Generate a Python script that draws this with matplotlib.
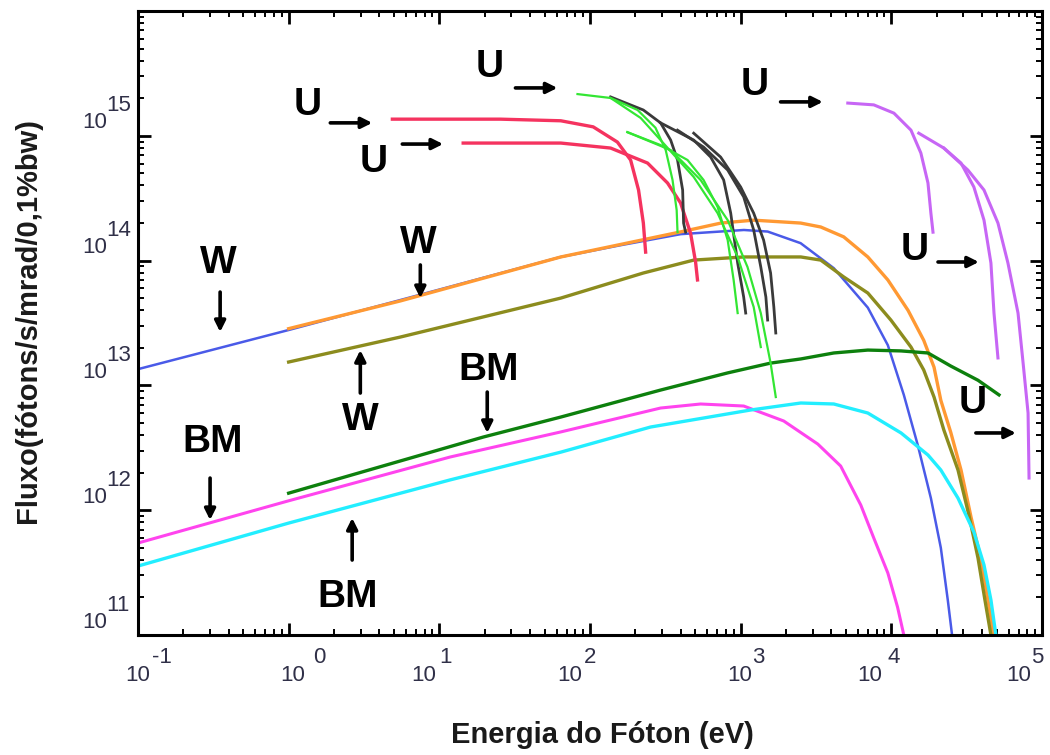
import numpy as np
import matplotlib.pyplot as plt

# photon energy (eV) and flux (photons/s/mrad/0.1%bw) for each source curve

# wigglers (W)
w1_e = [0.1, 1, 64, 160, 400, 1050, 1510, 2500, 4150, 6980, 9480, 12100, 15000, 18300, 21300, 23700, 26000]
w1_f = [1.35e13, 2.78e13, 1.07e14, 1.33e14, 1.63e14, 1.76e14, 1.71e14, 1.38e14, 8.7e13, 4.2e13, 2.1e13,
        8.4e12, 3.3e12, 1.25e12, 5.0e11, 1.9e11, 7.6e10]
w2_e = [1, 5.5, 64, 400, 740, 1220, 2500, 3400, 4830, 6980, 9480, 12900, 16400, 19200, 21300, 24800,
        29000, 33800, 39400, 43800, 49500]
w2_f = [2.85e13, 4.75e13, 1.07e14, 1.70e14, 2.0e14, 2.11e14, 2.0e14, 1.86e14, 1.55e14, 1.07e14, 7.0e13,
        4.0e13, 2.3e13, 1.4e13, 7.6e12, 4.2e12, 2.1e12, 8.8e11, 4.0e11, 1.9e11, 7.6e10]
w3_e = [1, 5.5, 64, 226, 488, 1047, 2506, 3400, 4830, 6980, 9930, 13500, 16400, 19200, 22300, 27700,
        32700, 37600, 41800, 45800, 47200]
w3_f = [1.54e13, 2.44e13, 5.01e13, 7.96e13, 1.01e14, 1.07e14, 1.07e14, 1.01e14, 7.4e13, 5.5e13, 3.34e13,
        2.03e13, 1.33e13, 8.07e12, 4.4e12, 2.1e12, 9.16e11, 4.14e11, 1.91e11, 1.0e11, 7.6e10]

# bending magnets (BM)
bm1_e = [1, 19.6, 64, 294, 820, 1580, 2506, 4150, 6980, 11600, 17500, 24800, 37600, 51800]
bm1_f = [1.37e12, 3.86e12, 5.58e12, 9.18e12, 1.26e13, 1.51e13, 1.63e13, 1.82e13, 1.92e13, 1.89e13,
         1.82e13, 1.43e13, 1.10e13, 8.4e12]
bm2_e = [0.1, 1, 11.8, 64, 294, 542, 1047, 1930, 3250, 4610, 6270, 7650, 9480, 11000, 12100, 12500]
bm2_f = [5.46e11, 1.19e12, 2.67e12, 4.24e12, 6.59e12, 7.10e12, 6.84e12, 5.19e12, 3.39e12, 2.26e12,
         1.10e12, 5.98e11, 3.14e11, 1.67e11, 1.0e11, 7.6e10]
bm3_e = [0.1, 1, 11.8, 64, 252, 1160, 2506, 4150, 6980, 11600, 17500, 21300, 27700, 35300, 41200,
         45800, 49400, 51000]
bm3_f = [3.57e11, 7.89e11, 1.75e12, 2.92e12, 4.64e12, 6.35e12, 7.23e12, 7.10e12, 6.01e12, 4.16e12,
         2.77e12, 2.10e12, 1.25e12, 6.69e11, 3.64e11, 1.91e11, 1.0e11, 7.6e10]

# undulators (U)
u_red_e = [[4.88, 25.4, 64, 105, 152, 186, 210, 226, 234],
           [14.4, 64, 137, 241, 327, 399, 465, 502, 517]]
u_red_f = [[1.36e15, 1.36e15, 1.32e15, 1.18e15, 8.91e14, 6.40e14, 3.68e14, 2.0e14, 1.17e14],
           [8.75e14, 8.75e14, 7.98e14, 6.05e14, 4.19e14, 2.90e14, 1.66e14, 9.75e13, 7.0e13]]
u_green_e = [[82.6, 137, 207, 272, 318, 353, 376, 381],
             [177, 294, 444, 567, 703, 820, 898, 955],
             [137, 217, 294, 488, 703, 955, 1220, 1360],
             [177, 343, 542, 820, 1110, 1360, 1580, 1710]]
u_green_f = [[2.16e15, 2.01e15, 1.61e15, 1.16e15, 7.69e14, 4.43e14, 2.54e14, 1.69e14],
             [1.07e15, 8.43e14, 6.40e14, 4.43e14, 2.69e14, 1.46e14, 7.0e13, 3.80e13],
             [2.01e15, 1.39e15, 9.25e14, 4.68e14, 2.40e14, 1.07e14, 4.25e13, 2.03e13],
             [1.07e15, 7.69e14, 4.43e14, 2.11e14, 8.89e13, 3.80e13, 1.51e13, 8.07e12]]
u_black_e = [[137, 226, 294, 343, 381, 412, 418, 431],
             [294, 488, 632, 771, 859, 955, 1047, 1080],
             [381, 567, 820, 1047, 1220, 1360, 1470, 1510],
             [488, 736, 1000, 1220, 1420, 1580, 1660, 1710]]
u_black_f = [[2.05e15, 1.61e15, 1.27e15, 9.25e14, 6.40e14, 3.68e14, 2.0e14, 1.69e14],
             [1.27e15, 9.25e14, 6.76e14, 4.43e14, 2.40e14, 9.57e13, 5.11e13, 3.80e13],
             [1.11e15, 8.13e14, 5.32e14, 3.24e14, 1.76e14, 8.89e13, 5.11e13, 3.34e13],
             [1.05e15, 6.76e14, 3.89e14, 2.40e14, 1.46e14, 7.96e13, 4.25e13, 2.63e13]]
u_purple_e = [[5140, 7650, 10400, 13500, 15700, 17500, 18300, 18900],
              [15200, 22300, 29000, 35300, 41200, 45800, 48000, 51000],
              [22300, 32200, 41200, 51000, 59400, 69300, 74900, 80800, 82000]]
u_purple_f = [[1.83e15, 1.77e15, 1.52e15, 1.11e15, 7.28e14, 4.19e14, 2.40e14, 1.69e14],
              [1.05e15, 7.98e14, 6.05e14, 3.89e14, 2.11e14, 9.57e13, 3.80e13, 1.66e13],
              [7.98e14, 5.32e14, 3.68e14, 2.0e14, 9.57e13, 3.80e13, 1.51e13, 6.01e12, 1.81e12]]

# labels: text, text position, arrow tail, arrow tip
tags = ['U', 'U', 'U', 'U', 'U', 'U', 'W', 'W', 'W', 'BM', 'BM', 'BM']
tag_pos = [(1.33, 1.77e15), (3.64, 6.17e14), (21.5, 3.56e15), (1240, 2.55e15), (14300, 1.22e14),
           (34800, 7.23e12), (0.34, 9.57e13), (7.24, 1.38e14), (2.99, 5.28e12), (21.2, 1.33e13),
           (0.315, 3.52e12), (2.48, 2.01e11)]
arrow_from = [(1.89, 1.27e15), (5.68, 8.59e14), (32.0, 2.42e15), (1840, 1.87e15), (20400, 9.75e13),
              (36400, 4.16e12), (0.351, 5.6e13), (7.48, 9.23e13), (2.99, 8.69e12), (20.8, 8.85e12),
              (0.301, 1.81e12), (2.64, 3.99e11)]
arrow_to = [(3.59, 1.27e15), (10.6, 8.59e14), (60.8, 2.42e15), (3510, 1.87e15), (38100, 9.75e13),
            (67100, 4.16e12), (0.351, 2.68e13), (7.48, 5.01e13), (2.99, 1.92e13), (20.8, 4.16e12),
            (0.301, 8.34e11), (2.64, 8.67e11)]

# decade exponents on each axis
x_pows = [-1, 0, 1, 2, 3, 4, 5]
y_pows = [11, 12, 13, 14, 15]

fig = plt.figure(figsize=(10.5, 7.55), dpi=100)
ax = fig.add_axes([0.1314, 0.1589, 0.861, 0.8265])
ax.set_xscale('log')
ax.set_yscale('log')
ax.set_xlim(0.1, 1e5)
ax.set_ylim(1e11, 1e16)

ax.plot(w1_e, w1_f, color='#4a5ae8', lw=1.8)
ax.plot(w2_e, w2_f, color='#ff9933', lw=2.4)
ax.plot(w3_e, w3_f, color='#8c8c1e', lw=2.4)
ax.plot(bm2_e, bm2_f, color='#ff44ee', lw=2.2)
ax.plot(bm3_e, bm3_f, color='#22eeff', lw=2.4)
ax.plot(bm1_e, bm1_f, color='#0d800d', lw=2.4)

for e, f in zip(u_red_e, u_red_f):
    ax.plot(e, f, color='#f5335f', lw=2.4)
for e, f in zip(u_black_e, u_black_f):
    ax.plot(e, f, color='#3a3a3a', lw=2.0)
for e, f in zip(u_green_e, u_green_f):
    ax.plot(e, f, color='#33e633', lw=1.6)
for e, f in zip(u_purple_e, u_purple_f):
    ax.plot(e, f, color='#c766f5', lw=2.2)

tag_font = dict(family=['Liberation Sans Narrow', 'Liberation Sans', 'DejaVu Sans'],
                fontsize=28, fontweight='bold', color='black')
for t, p, a, b in zip(tags, tag_pos, arrow_from, arrow_to):
    ax.text(p[0], p[1], t, ha='center', va='center', **tag_font)
    ax.annotate('', xy=b, xytext=a,
                arrowprops=dict(arrowstyle='-|>', color='black', lw=2.6,
                                mutation_scale=16, shrinkA=0, shrinkB=0))

# axes frame and ticks
for s in ax.spines.values():
    s.set_linewidth(2.2)
ax.tick_params(which='both', direction='in', top=True, right=True,
               labelbottom=False, labelleft=False)
ax.tick_params(which='major', length=9, width=2.0)
ax.tick_params(which='minor', length=4, width=1.4)
ax.xaxis.set_major_locator(plt.LogLocator(base=10, numticks=10))
ax.xaxis.set_minor_locator(plt.LogLocator(base=10, subs=np.arange(2, 10), numticks=20))
ax.yaxis.set_major_locator(plt.LogLocator(base=10, numticks=10))
ax.yaxis.set_minor_locator(plt.LogLocator(base=10, subs=np.arange(2, 10), numticks=20))

# decade labels drawn as "10" with a raised exponent (hand-placed, slightly off the ticks)
tick_font = dict(family=['Liberation Sans', 'DejaVu Sans'], fontsize=16, color='#303048')
base_dx = [12, 16, -3, -8, 11, -9, -11]
exp_dx = [14, 24, 0, -6, 11, -4, -11]
for p, bx, ex in zip(x_pows, base_dx, exp_dx):
    ax.annotate('10', xy=(10.0**p, 0), xycoords=('data', 'axes fraction'),
                xytext=(bx, -40), textcoords='offset pixels', ha='right', va='center', **tick_font)
    ax.annotate(str(p), xy=(10.0**p, 0), xycoords=('data', 'axes fraction'),
                xytext=(ex, -22), textcoords='offset pixels', ha='left', va='center', **tick_font)
for p in y_pows:
    ax.annotate('10', xy=(0, 10.0**p), xycoords=('axes fraction', 'data'),
                xytext=(-31, 13), textcoords='offset pixels', ha='right', va='center', **tick_font)
    ax.annotate(str(p), xy=(0, 10.0**p), xycoords=('axes fraction', 'data'),
                xytext=(-32, 30), textcoords='offset pixels', ha='left', va='center', **tick_font)

label_font = dict(family=['Liberation Sans', 'DejaVu Sans'], fontsize=21, fontweight='bold', color='#1a1a1a')
fig.text(0.574, 0.0265, 'Energia do Fóton (eV)', ha='center', va='center', **label_font)
fig.text(0.0267, 0.576, 'Fluxo(fótons/s/mrad/0,1%bw)', ha='center', va='center', rotation=90, **label_font)

fig.savefig('out.png', dpi=100)
